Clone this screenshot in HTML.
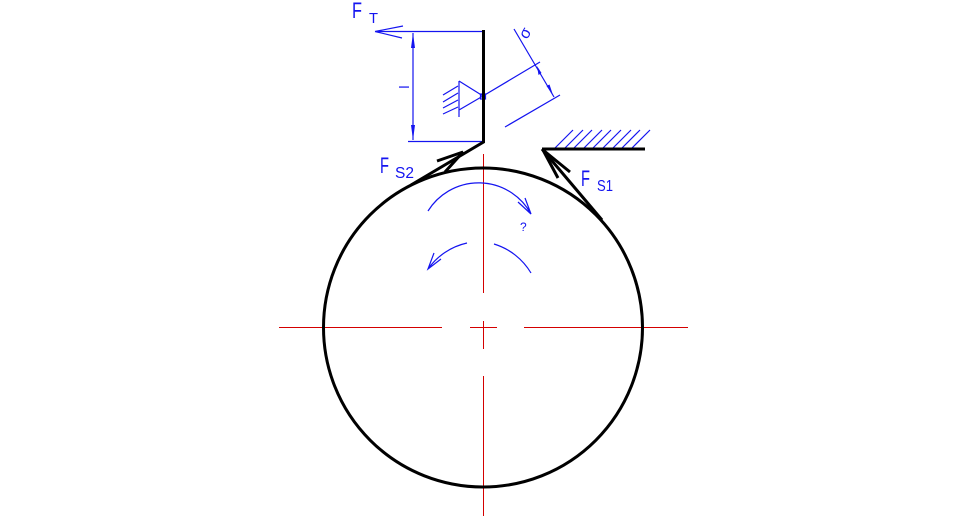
<!DOCTYPE html>
<html>
<head>
<meta charset="utf-8">
<style>
html,body{margin:0;padding:0;background:#fff;width:966px;height:518px;overflow:hidden}
svg{display:block}
text{font-family:"Liberation Sans",sans-serif;fill:#1414f0}
</style>
</head>
<body>
<svg width="966" height="518" viewBox="0 0 966 518" xmlns="http://www.w3.org/2000/svg">
<g stroke="#d40000" stroke-width="1" fill="none">
<path d="M279 327.5H442M470 327.5H497M524 327.5H688"/>
<path d="M483.5 154V293M483.5 321V349M483.5 376V516"/>
</g>
<g stroke="#1414f0" stroke-width="1.2" fill="none">
<path d="M375 31.5H483M375 31.5L403 26M375 31.5L402 38"/>
<path d="M408 141.5H483M413 33V140"/>
<path d="M459 81V117M459 81L483 96M459 110L483 96"/>
<path d="M443 95L458 86M443 102L458 93M443 108L458 100M443 114L458 107"/>
<path d="M483 96L540 62M505 127L560 95M514 29L554 97"/>
<rect x="480.5" y="94" width="5" height="5"/>
<path d="M555 148L573 130M565 148L583 130M574 148L592 130M584 148L602 130M593 148L611 130M603 148L621 130M613 148L631 130M622 148L640 130M632 148L650 130"/>
<path d="M428 211A59.6 59.6 0 0 1 531 214M525 198L531 214L518 202"/>
<path d="M467 243A65 65 0 0 0 428 269M434 253L428 269L441 259"/>
<path d="M494 244A65 65 0 0 1 531 273"/>
</g>
<g fill="#1414f0">
<path d="M413 33L411 48H415ZM413 140L411 125H415Z"/>
<path d="M537 66L538.5 75L541.5 73ZM553 95L546.5 86L549.5 84.5Z"/>
</g>
<circle cx="483" cy="327.5" r="159.5" fill="none" stroke="#000" stroke-width="3"/>
<g stroke="#000" stroke-width="3" fill="none">
<path d="M483.5 30V142L411 185"/>
<path d="M437 161L463 152L445 172"/>
<path d="M542 149H645M542 149L602 220"/>
<path d="M570 172L543 150L558 178"/>
</g>
<text x="352" y="18" font-size="22" textLength="10" lengthAdjust="spacingAndGlyphs">F</text>
<text x="369" y="23" font-size="15" textLength="9" lengthAdjust="spacingAndGlyphs">T</text>
<text x="380" y="173" font-size="22" textLength="9" lengthAdjust="spacingAndGlyphs">F</text>
<text x="395" y="178" font-size="16" textLength="19" lengthAdjust="spacingAndGlyphs">S2</text>
<text x="581" y="186" font-size="22" textLength="9" lengthAdjust="spacingAndGlyphs">F</text>
<text x="597" y="191" font-size="16" textLength="16" lengthAdjust="spacingAndGlyphs">S1</text>
<text x="520" y="231" font-size="12">?</text>
<text transform="translate(409 87) rotate(-90)" font-size="14" text-anchor="middle">l</text>
<text transform="translate(527 40) rotate(-60)" font-size="16">σ</text>
</svg>
</body>
</html>
